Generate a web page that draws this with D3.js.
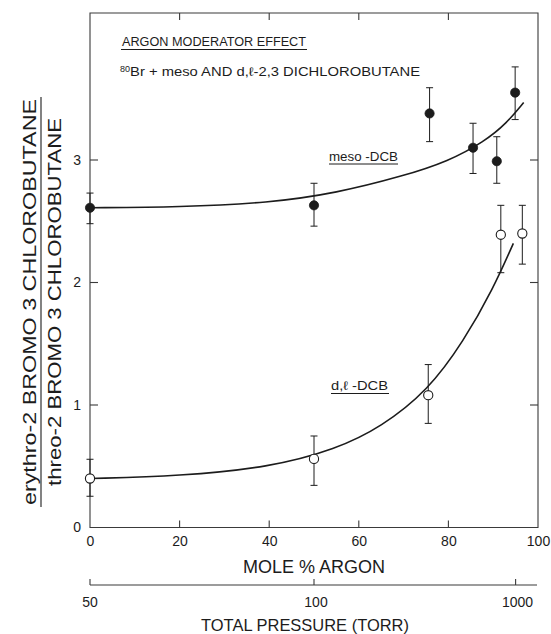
<!DOCTYPE html>
<html>
<head>
<meta charset="utf-8">
<script src="https://cdn.jsdelivr.net/npm/d3@7"></script>
<style>
  html, body { margin: 0; padding: 0; background: #fff; }
  svg { display: block; }
  text { font-family: "Liberation Sans", Arial, sans-serif; fill: #1c1c1c; }
</style>
</head>
<body>
<svg id="chart" width="551" height="634"></svg>
<script>
// Ratio erythro/threo of 2-bromo-3-chlorobutane vs. mole % argon
const mesoPct   = [0, 50, 75.8, 85.5, 90.8, 94.9];
const mesoRatio = [2.61, 2.63, 3.38, 3.10, 2.99, 3.55];
const mesoLo    = [2.48, 2.46, 3.15, 2.89, 2.81, 3.33];
const mesoHi    = [2.73, 2.81, 3.59, 3.30, 3.19, 3.76];

const dlPct   = [0, 50, 75.5, 91.7, 96.5];
const dlRatio = [0.40, 0.56, 1.08, 2.39, 2.40];
const dlLo    = [0.255, 0.344, 0.85, 2.08, 2.15];
const dlHi    = [0.557, 0.747, 1.33, 2.63, 2.63];

// Fitted curves, sampled along each line
const mesoFitPct = [0, 20, 40, 55, 70, 80, 88, 93, 96.8];
const mesoFit    = [2.61, 2.615, 2.65, 2.73, 2.87, 2.99, 3.15, 3.30, 3.47];
const dlFitPct = [0, 20, 40, 55, 65, 75.5, 83.4, 90, 94.5];
const dlFit    = [0.40, 0.42, 0.49, 0.64, 0.82, 1.12, 1.52, 1.95, 2.32];

const xTicks = [0, 20, 40, 60, 80, 100];
const yTicks = [0, 1, 2, 3];
const pressureTicks = [50, 100, 1000];
const basePressure = 50; // torr of dichlorobutane

const svg = d3.select("#chart");
const x = d3.scaleLinear().domain([0, 100]).range([90, 538]);
const y = d3.scaleLinear().domain([0, 4.2]).range([527.5, 13]);
const ink = "#1c1c1c";

// Frame
const frame = svg.append("g").attr("stroke", "#3a3a3a").attr("stroke-width", 1.1).attr("fill", "none");
frame.append("path").attr("d", `M${x(0)},${y(4.2)}H${x(100)}V${y(0)}H${x(0)}Z`);

// Bottom axis, ticks inward
const xAxis = d3.axisBottom(x).tickValues(xTicks).tickSize(0).tickPadding(9).tickFormat(d3.format("d"));
const gx = svg.append("g").attr("transform", `translate(0,${y(0)})`).call(xAxis);
gx.select(".domain").remove();
gx.selectAll("text").attr("font-size", 14).attr("fill", ink);
const innerX = xTicks.filter(d => d > 0 && d < 100);
frame.selectAll(".bt").data(innerX).join("line")
  .attr("x1", d => x(d)).attr("x2", d => x(d)).attr("y1", y(0)).attr("y2", y(0) - 7);
frame.selectAll(".tt").data(innerX).join("line")
  .attr("x1", d => x(d)).attr("x2", d => x(d)).attr("y1", y(4.2)).attr("y2", y(4.2) + 7);

// Left axis, ticks inward
const yAxis = d3.axisLeft(y).tickValues(yTicks).tickSize(0).tickPadding(9).tickFormat(d3.format("d"));
const gy = svg.append("g").attr("transform", `translate(${x(0)},0)`).call(yAxis);
gy.select(".domain").remove();
gy.selectAll("text").attr("font-size", 14).attr("fill", ink);
const innerY = yTicks.filter(d => d > 0);
frame.selectAll(".lt").data(innerY).join("line")
  .attr("x1", x(0)).attr("x2", x(0) + 8).attr("y1", d => y(d)).attr("y2", d => y(d));
frame.selectAll(".rt").data(innerY).join("line")
  .attr("x1", x(100)).attr("x2", x(100) - 8).attr("y1", d => y(d)).attr("y2", d => y(d));

// Pressure axis: P = base / (1 - f)
const pressX = p => x(100 * (1 - basePressure / p));
const pY = 585;
const gp = svg.append("g").attr("stroke", "#3a3a3a").attr("stroke-width", 1.1);
gp.append("line").attr("x1", x(0)).attr("x2", x(100) - 1).attr("y1", pY).attr("y2", pY);
gp.selectAll("line.pt").data(pressureTicks).join("line").attr("class", "pt")
  .attr("x1", d => pressX(d)).attr("x2", d => pressX(d)).attr("y1", pY).attr("y2", pY - 6);
svg.append("g").selectAll("text").data(pressureTicks).join("text")
  .attr("x", d => pressX(d) + (d === 50 ? 0 : 2))
  .attr("y", 607).attr("text-anchor", "middle").attr("font-size", 14).text(d => d);

// Axis titles
svg.append("text").attr("x", x(50)).attr("y", 573).attr("text-anchor", "middle")
  .attr("font-size", 18).attr("textLength", 142).attr("lengthAdjust", "spacingAndGlyphs").text("MOLE % ARGON");
svg.append("text").attr("x", 305).attr("y", 631).attr("text-anchor", "middle")
  .attr("font-size", 17).attr("textLength", 208).attr("lengthAdjust", "spacingAndGlyphs").text("TOTAL PRESSURE (TORR)");

// Ratio label on the y axis
const yl = svg.append("g").attr("transform", "translate(0,302) rotate(-90)");
yl.append("text").attr("x", 0).attr("y", 36).attr("text-anchor", "middle").attr("font-size", 19)
  .attr("textLength", 406).attr("lengthAdjust", "spacingAndGlyphs").text("erythro-2 BROMO 3 CHLOROBUTANE");
yl.append("line").attr("x1", -205).attr("x2", 205).attr("y1", 41).attr("y2", 41)
  .attr("stroke", ink).attr("stroke-width", 1.1);
yl.append("text").attr("x", 0).attr("y", 61).attr("text-anchor", "middle").attr("font-size", 19)
  .attr("textLength", 368).attr("lengthAdjust", "spacingAndGlyphs").text("threo-2 BROMO 3 CHLOROBUTANE");

// Title block
svg.append("text").attr("x", 122).attr("y", 46).attr("font-size", 12.5)
  .attr("textLength", 184).attr("lengthAdjust", "spacingAndGlyphs").text("ARGON MODERATOR EFFECT");
svg.append("line").attr("x1", 121).attr("x2", 307).attr("y1", 49.5).attr("y2", 49.5)
  .attr("stroke", ink).attr("stroke-width", 1);
const sub = svg.append("text").attr("x", 120).attr("y", 76).attr("font-size", 12.5);
sub.append("tspan").attr("font-size", 9).attr("dy", -4).text("80");
sub.append("tspan").attr("dy", 4).attr("textLength", 290).attr("lengthAdjust", "spacingAndGlyphs")
  .text("Br + meso AND d,ℓ-2,3 DICHLOROBUTANE");

// Curve labels
svg.append("text").attr("x", 329).attr("y", 161).attr("font-size", 12.5)
  .attr("textLength", 69).attr("lengthAdjust", "spacingAndGlyphs").text("meso -DCB");
svg.append("line").attr("x1", 329).attr("x2", 398).attr("y1", 164).attr("y2", 164).attr("stroke", ink);
svg.append("text").attr("x", 331).attr("y", 390).attr("font-size", 12.5)
  .attr("textLength", 57).attr("lengthAdjust", "spacingAndGlyphs").text("d,ℓ -DCB");
svg.append("line").attr("x1", 331).attr("x2", 389).attr("y1", 393.5).attr("y2", 393.5).attr("stroke", ink);

// Fitted curves
const lineGen = d3.line().x(d => x(d[0])).y(d => y(d[1])).curve(d3.curveBasis);
svg.append("path").datum(d3.zip(mesoFitPct, mesoFit)).attr("d", lineGen)
  .attr("fill", "none").attr("stroke", ink).attr("stroke-width", 1.6);
svg.append("path").datum(d3.zip(dlFitPct, dlFit)).attr("d", lineGen)
  .attr("fill", "none").attr("stroke", ink).attr("stroke-width", 1.6);

// Error bars and points
function drawSeries(pct, val, lo, hi, filled) {
  const data = pct.map((p, i) => ({ p, v: val[i], lo: lo[i], hi: hi[i] }));
  const g = svg.append("g").attr("stroke", ink).attr("stroke-width", 1);
  g.selectAll("line.eb").data(data).join("line").attr("class", "eb")
    .attr("x1", d => x(d.p)).attr("x2", d => x(d.p)).attr("y1", d => y(d.lo)).attr("y2", d => y(d.hi));
  ["lo", "hi"].forEach(k => {
    g.selectAll("line.cap" + k).data(data).join("line").attr("class", "cap" + k)
      .attr("x1", d => x(d.p) - 3.5).attr("x2", d => x(d.p) + 3.5)
      .attr("y1", d => y(d[k])).attr("y2", d => y(d[k]));
  });
  g.selectAll("circle").data(data).join("circle")
    .attr("cx", d => x(d.p)).attr("cy", d => y(d.v)).attr("r", 4.6)
    .attr("fill", filled ? ink : "#fff").attr("stroke-width", filled ? 0.8 : 1.1);
}
drawSeries(mesoPct, mesoRatio, mesoLo, mesoHi, true);
drawSeries(dlPct, dlRatio, dlLo, dlHi, false);
</script>
</body>
</html>
